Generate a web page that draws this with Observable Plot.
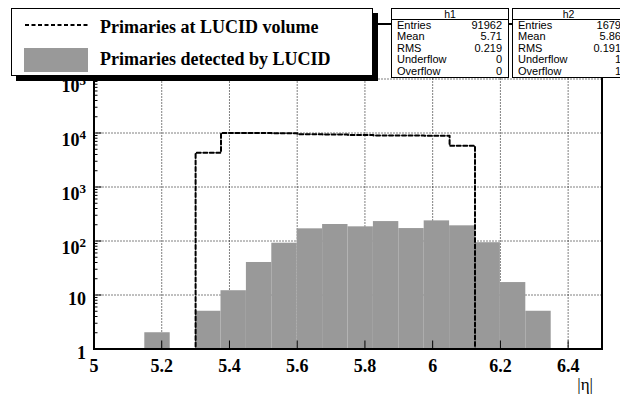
<!DOCTYPE html>
<html><head><meta charset="utf-8">
<script src="https://cdn.jsdelivr.net/npm/d3@7"></script>
<script src="https://cdn.jsdelivr.net/npm/@observablehq/plot@0.6"></script>
<style>
html,body{margin:0;padding:0;background:#fff;}
#chart{position:relative;width:620px;height:394px;}
</style></head><body><div id="chart"></div>
<script>
// ---- data ----
const binLo = [5.000, 5.075, 5.150, 5.225, 5.300, 5.375, 5.450, 5.525, 5.600, 5.675,
               5.750, 5.825, 5.900, 5.975, 6.050, 6.125, 6.200, 6.275, 6.350, 6.425];
const binWidth = 0.075;
const atVolume = [0, 0, 0, 0, 4300, 10000, 10000, 9900, 9500, 9400,
                  9200, 9000, 9000, 8900, 5800, 0, 0, 0, 0, 0];
const detected = [0, 0, 2, 0, 5, 12, 40, 91, 168, 202,
                  183, 229, 170, 236, 191, 93, 17, 5, 0, 0];
const xTicks = [5, 5.2, 5.4, 5.6, 5.8, 6, 6.2, 6.4];
const xTickLabels = ["5", "5.2", "5.4", "5.6", "5.8", "6", "6.2", "6.4"];
const yTicks = [1, 10, 100, 1000, 10000, 100000];
const yTickBase = ["1", "10", "10", "10", "10", "10"];
const yTickExp = ["", "", "2", "3", "4", "5"];
const yMinor = [2,3,4,5,6,7,8,9,20,30,40,50,60,70,80,90,200,300,400,500,600,700,800,900,
                2000,3000,4000,5000,6000,7000,8000,9000,20000,30000,40000,50000,60000,70000,80000,90000];
const xLabel = "|\u03B7|";
const legendLabels = ["Primaries at LUCID volume", "Primaries detected by LUCID"];
const statNames = ["Entries", "Mean", "RMS", "Underflow", "Overflow"];
const statH1 = ["91962", "5.71", "0.219", "0", "0"];
const statH2 = ["1679", "5.86", "0.191", "1", "1"];
const statTitles = ["h1", "h2"];

// ---- derived tables ----
const rows = binLo.map((lo, i) => ({lo, hi: lo + binWidth, vol: atVolume[i], det: detected[i]}));
const stepPts = rows.map(r => ({x: r.lo, y: Math.max(r.vol, 1)}))
  .concat([{x: rows[rows.length - 1].hi, y: Math.max(atVolume[atVolume.length - 1], 1)}]);

const serif = "'Liberation Serif', 'Times New Roman', serif";
const sans = "'Liberation Sans', Arial, Helvetica, sans-serif";

const plot = Plot.plot({
  width: 620, height: 394,
  marginLeft: 93.5, marginRight: 18.5, marginTop: 78.5, marginBottom: 45.5,
  x: {domain: [5, 6.5]},
  y: {type: "log", domain: [1, 100000]},
  style: {background: "white", overflow: "visible"},
  marks: [
    Plot.gridX(xTicks.slice(1), {stroke: "#000", strokeOpacity: 1, strokeDasharray: "1,2"}),
    Plot.gridY(yTicks.slice(1), {stroke: "#000", strokeOpacity: 1, strokeDasharray: "1,2"}),
    Plot.rect(rows.filter(r => r.det > 0), {x1: "lo", x2: "hi", y1: 1, y2: "det", fill: "#999999"}),
    Plot.line(stepPts, {x: "x", y: "y", curve: "step-after", stroke: "#000", strokeWidth: 2, strokeDasharray: "4,2.5"}),
    Plot.axisX(xTicks, {tickSize: -8, tickFormat: () => "", label: null}),
    Plot.axisX(xTicks, {tickSize: 0, tickPadding: 10, tickFormat: d => xTickLabels[xTicks.indexOf(d)],
      label: null, fontSize: 18, fontWeight: "bold", fontFamily: serif, fill: "#000"}),
    Plot.axisY(yTicks, {tickSize: -8, tickFormat: () => "", label: null}),
    Plot.axisY(yMinor, {tickSize: -4, tickFormat: () => "", label: null}),
    Plot.axisY(yTicks, {tickSize: 0, tickPadding: 8, dy: 4,
      tickFormat: d => { const i = yTicks.indexOf(d); return yTickBase[i] + (yTickExp[i] ? "^" + yTickExp[i] : ""); },
      label: null, fontSize: 18, fontWeight: "bold", fontFamily: serif, fill: "#000"}),
    Plot.frame({anchor: "left", stroke: "#000", strokeWidth: 2}),
    Plot.frame({anchor: "bottom", stroke: "#000", strokeWidth: 2}),
    Plot.frame({anchor: "right", stroke: "#000", strokeWidth: 2})
  ]
});
document.getElementById("chart").appendChild(plot);

const svg = d3.select(plot);
// turn "10^n" tick labels into a base with a raised exponent
svg.selectAll("text").each(function() {
  const t = this.textContent;
  const m = /^(\d+)\^(\d+)$/.exec(t);
  if (!m) return;
  const el = d3.select(this);
  el.text(null);
  el.append("tspan").attr("dy", 3).text(m[1]);
  el.append("tspan").attr("dy", -7).attr("font-size", 13).text(m[2]);
});

// ---- overlays: axis title, legend, stats boxes ----
svg.append("text").attr("x", 593).attr("y", 390).attr("text-anchor", "end")
  .attr("font-family", serif).attr("font-size", 17).attr("fill", "#000").text(xLabel);

const g = svg.append("g").attr("text-anchor", "start");
g.append("line").attr("x1", 373).attr("x2", 514).attr("y1", 24).attr("y2", 24)
  .attr("stroke", "#000").attr("stroke-width", 2);
// legend
g.append("rect").attr("x", 16).attr("y", 13).attr("width", 362).attr("height", 68).attr("fill", "#000");
g.append("rect").attr("x", 11.5).attr("y", 8.5).attr("width", 361).attr("height", 67)
  .attr("fill", "#fff").attr("stroke", "#000").attr("stroke-width", 1);
g.append("line").attr("x1", 25).attr("x2", 88).attr("y1", 25).attr("y2", 25)
  .attr("stroke", "#000").attr("stroke-width", 2).attr("stroke-dasharray", "4,2.5");
g.append("rect").attr("x", 24).attr("y", 48).attr("width", 64).attr("height", 24).attr("fill", "#999999");
legendLabels.forEach((t, i) => {
  g.append("text").attr("x", 100).attr("y", i === 0 ? 33 : 65).attr("text-anchor", "start")
    .attr("font-family", serif).attr("font-weight", "bold").attr("font-size", 18).attr("fill", "#000").text(t);
});
// stats boxes
const boxes = [{x: 391.5, w: 117, title: statTitles[0], vals: statH1, right: 502},
               {x: 512.5, w: 112, title: statTitles[1], vals: statH2, right: 621}];
boxes.forEach(b => {
  g.append("rect").attr("x", b.x).attr("y", 8.5).attr("width", b.w).attr("height", 69)
    .attr("fill", "#fff").attr("stroke", "#000").attr("stroke-width", 1);
  g.append("line").attr("x1", b.x).attr("x2", b.x + b.w).attr("y1", 19.5).attr("y2", 19.5)
    .attr("stroke", "#000").attr("stroke-width", 1);
  g.append("text").attr("x", b.x + b.w / 2).attr("y", 17.5).attr("text-anchor", "middle")
    .attr("font-family", sans).attr("font-size", 10.5).attr("fill", "#000").text(b.title);
  statNames.forEach((n, i) => {
    const y = 28.5 + i * 11.5;
    g.append("text").attr("x", b.x + 5.5).attr("y", y).attr("text-anchor", "start")
      .attr("font-family", sans).attr("font-size", 11).attr("fill", "#000").text(n);
    g.append("text").attr("x", b.right).attr("y", y).attr("text-anchor", "end")
      .attr("font-family", sans).attr("font-size", 11).attr("fill", "#000").text(b.vals[i]);
  });
});
</script></body></html>
